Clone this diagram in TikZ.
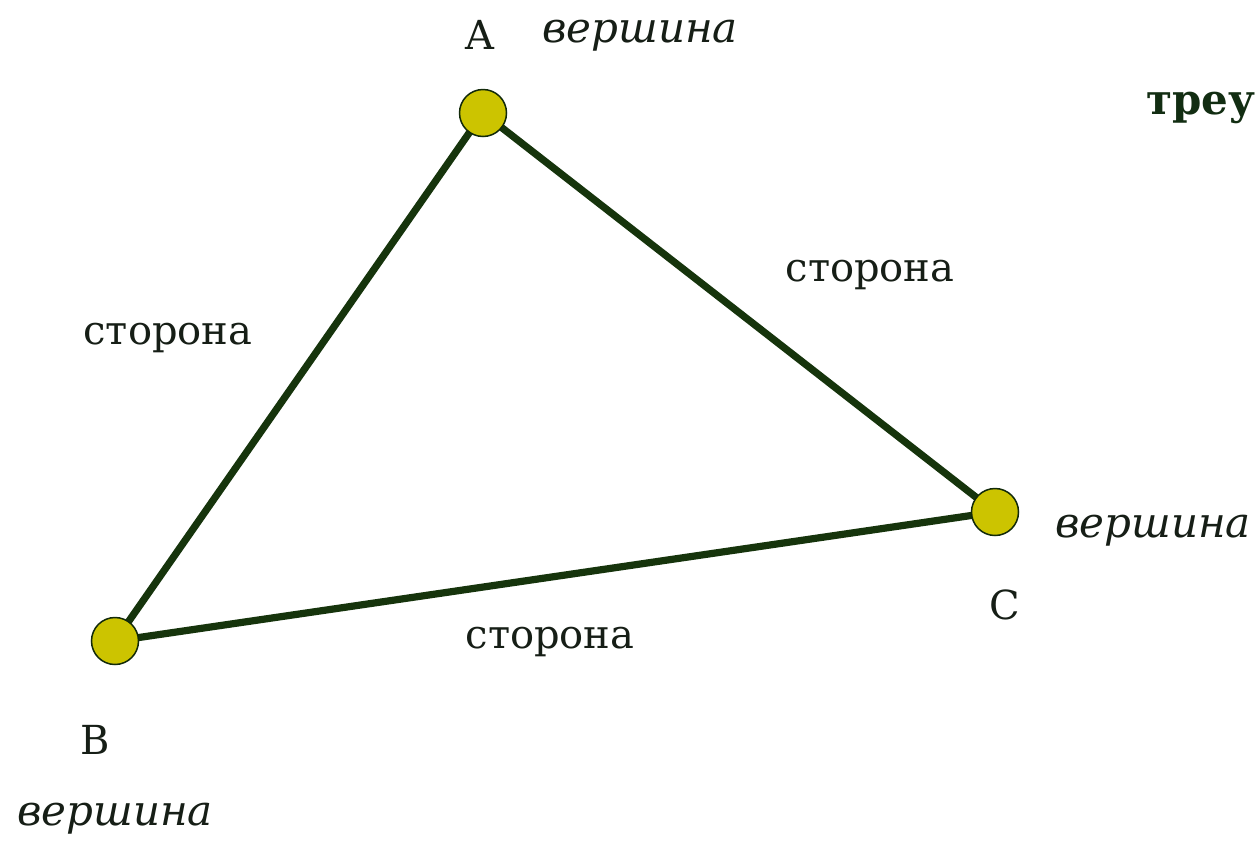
\documentclass[tikz,border=0pt]{standalone}
\usepackage{fontspec}
\setmainfont{DejaVu Serif}
\definecolor{edgegreen}{RGB}{22,52,12}
\definecolor{vfill}{RGB}{204,196,0}
\definecolor{txt}{RGB}{22,30,22}
\definecolor{titlegreen}{RGB}{18,45,18}
\begin{document}
\begin{tikzpicture}[x=1pt,y=-1pt,
  vertex/.style={circle,draw=edgegreen!80!black,line width=1.5pt,fill=vfill,minimum size=47pt,inner sep=0pt},
  edge/.style={draw=edgegreen,line width=7.2pt},
  lbl/.style={text=txt,font=\fontsize{40}{48}\selectfont,inner sep=0pt},
  ilbl/.style={text=txt,font=\fontsize{42}{50}\selectfont\itshape,inner sep=0pt}]
\clip (0,0) rectangle (1258,844);
\fill[white] (0,0) rectangle (1258,844);
\coordinate (pa) at (483,113);
\coordinate (pb) at (115,641);
\coordinate (pc) at (995,512);
\draw[edge] (pa) -- (pb) -- (pc) -- cycle;
\node[vertex] (A) at (pa) {};
\node[vertex] (B) at (pb) {};
\node[vertex] (C) at (pc) {};
\node[lbl] (la) at (480,35) {A};
\node[ilbl] (va) at (640,36) {вершина};
\node[lbl] (lb) at (95,740) {B};
\node[ilbl] (vb) at (115,819) {вершина};
\node[lbl] (lc) at (1005,605) {C};
\node[ilbl] (vc) at (1153,531) {вершина};
\node[lbl] (sab) at (168,338) {сторона};
\node[lbl] (sac) at (870,275) {сторона};
\node[lbl] (sbc) at (550,642) {сторона};
\node[lbl,anchor=west,text=titlegreen,font=\fontsize{42}{50}\selectfont\bfseries] (title) at (1146,108) {треу};
\end{tikzpicture}
\end{document}
